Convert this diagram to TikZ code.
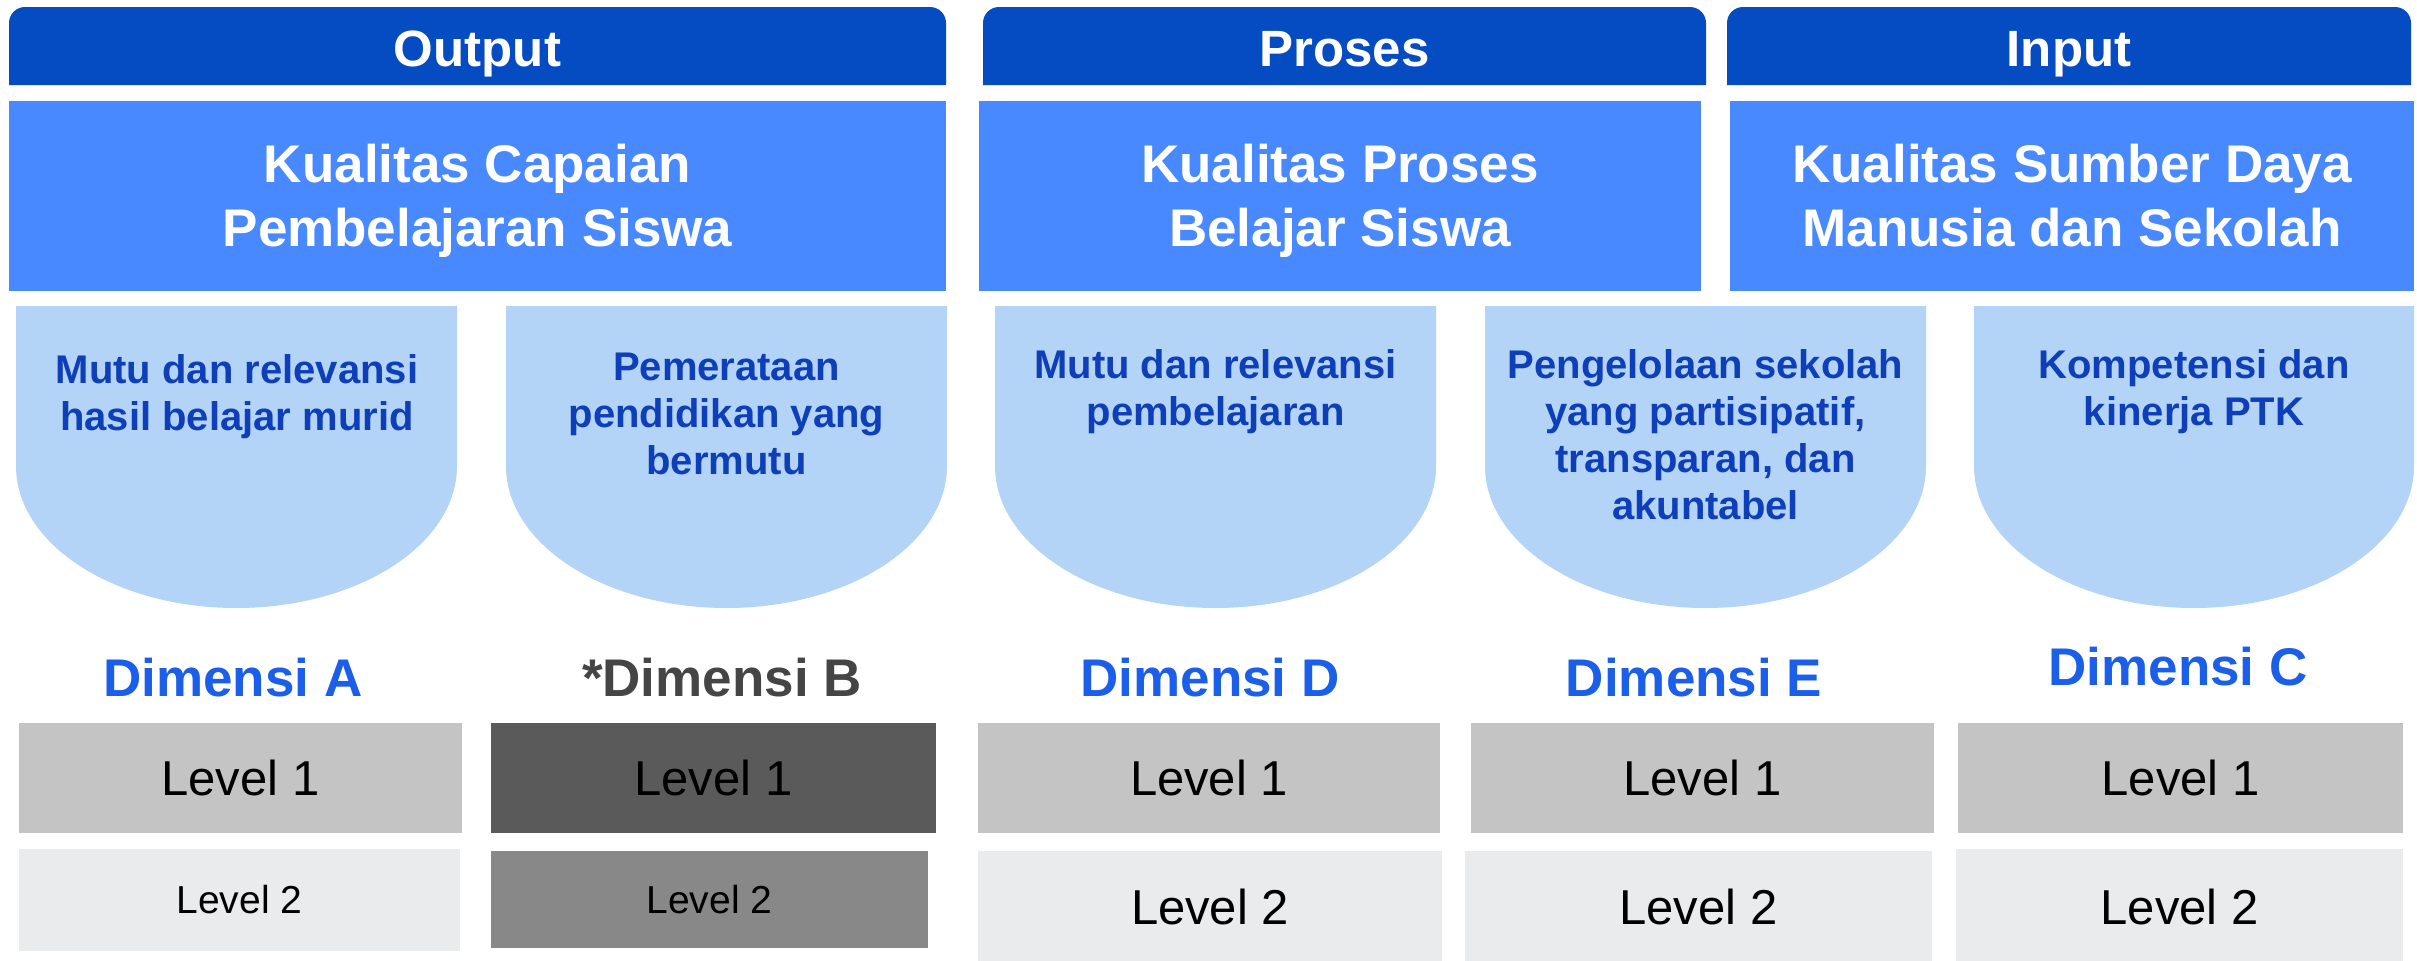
\documentclass[tikz,border=0pt]{standalone}
\usepackage{fontspec}
\setmainfont{Liberation Sans}
\definecolor{hdrblue}{HTML}{054CC2}
\definecolor{mainblue}{HTML}{4889FF}
\definecolor{shieldfill}{HTML}{B3D3F7}
\definecolor{shieldtext}{HTML}{0E3FB8}
\definecolor{dimblue}{HTML}{1A5EEA}
\definecolor{dimgray}{HTML}{454545}
\definecolor{lvlone}{HTML}{C4C4C4}
\definecolor{lvltwo}{HTML}{EAEBED}
\definecolor{blvlone}{HTML}{5A5A5A}
\definecolor{blvltwo}{HTML}{888888}
\tikzset{
  hdrtext/.style={text=white, font=\fontsize{25.5pt}{30pt}\selectfont\bfseries, anchor=base, inner sep=0pt},
  mainbox/.style={fill=mainblue, draw=none, inner sep=0pt, minimum height=95pt},
  maintext/.style={text=white, font=\fontsize{26.5pt}{32pt}\selectfont\bfseries, align=center, anchor=north, inner sep=0pt},
  shieldshape/.style={fill=shieldfill, draw=none},
  shieldlabel/.style={text=shieldtext, font=\fontsize{20pt}{23.5pt}\selectfont\bfseries, align=center, anchor=north, inner sep=0pt},
  dimlabel/.style={text=dimblue, font=\fontsize{26.5pt}{30pt}\selectfont\bfseries, anchor=base, inner sep=0pt},
  lvlbox/.style={draw=none, inner sep=0pt, text=black, font=\fontsize{24.5pt}{28pt}\selectfont},
  lvlsmall/.style={lvlbox, font=\fontsize{19.5pt}{24pt}\selectfont},
}
\begin{document}
\begin{tikzpicture}[x=0.5pt,y=-0.5pt]
\useasboundingbox (0,0) rectangle (2417,960);
\fill[white] (0,0) rectangle (2417,960);

% headers
\fill[hdrblue, rounded corners=8pt] (9,85) -- (9,7) -- (946,7) -- (946,85);
\fill[hdrblue, rounded corners=8pt] (983,85) -- (983,7) -- (1706,7) -- (1706,85);
\fill[hdrblue, rounded corners=8pt] (1727,85) -- (1727,7) -- (2411,7) -- (2411,85);
\node[hdrtext] (hout) at (477.5,66) {Output};
\node[hdrtext] (hpro) at (1344.5,66) {Proses};
\node[hdrtext] (hinp) at (2069,66) {Input};

% main boxes
\node[mainbox, minimum width=468.5pt] (bout) at (477.5,196) {};
\node[mainbox, minimum width=361pt] (bpro) at (1340,196) {};
\node[mainbox, minimum width=342pt] (binp) at (2072,196) {};
\node[maintext] (tout) at (477.5,144) {Kualitas Capaian\\Pembelajaran Siswa};
\node[maintext] (tpro) at (1340,144) {Kualitas Proses\\Belajar Siswa};
\node[maintext] (tinp) at (2072,144) {Kualitas Sumber Daya\\Manusia dan Sekolah};

% shields
\fill[shieldshape] (16,306) -- (16,466) .. controls (16,544.4) and (114.7,608) .. (236.5,608) .. controls (358.3,608) and (457,544.4) .. (457,466) -- (457,306) -- cycle;
\fill[shieldshape] (506,306) -- (506,466) .. controls (506,544.4) and (604.7,608) .. (726.5,608) .. controls (848.3,608) and (947,544.4) .. (947,466) -- (947,306) -- cycle;
\fill[shieldshape] (995,306) -- (995,466) .. controls (995,544.4) and (1093.7,608) .. (1215.5,608) .. controls (1337.3,608) and (1436,544.4) .. (1436,466) -- (1436,306) -- cycle;
\fill[shieldshape] (1485,306) -- (1485,466) .. controls (1485,544.4) and (1583.7,608) .. (1705.5,608) .. controls (1827.3,608) and (1926,544.4) .. (1926,466) -- (1926,306) -- cycle;
\fill[shieldshape] (1974,306) -- (1974,466) .. controls (1974,544.4) and (2072.2,608) .. (2194,608) .. controls (2315.8,608) and (2414,544.4) .. (2414,466) -- (2414,306) -- cycle;

\node[shieldlabel] (sa) at (237,354) {Mutu dan relevansi\\hasil belajar murid};
\node[shieldlabel] (sb) at (726.5,353) {Pemerataan\\pendidikan yang\\bermutu};
\node[shieldlabel] (sd) at (1215.5,349) {Mutu dan relevansi\\pembelajaran};
\node[shieldlabel] (se) at (1705.5,349) {Pengelolaan sekolah\\yang partisipatif,\\transparan, dan\\akuntabel};
\node[shieldlabel] (sc) at (2194,349) {Kompetensi dan\\kinerja PTK};

% dimension labels
\node[dimlabel] (da) at (233,696) {Dimensi A};
\node[dimlabel, text=dimgray] (db) at (722,696) {*Dimensi B};
\node[dimlabel] (dd) at (1210,696) {Dimensi D};
\node[dimlabel] (de) at (1694,696) {Dimensi E};
\node[dimlabel] (dc) at (2178,685) {Dimensi C};

% level 1
\node[lvlbox, fill=lvlone, minimum width=221.5pt, minimum height=55pt] (a1) at (240.5,778) {Level 1};
\node[lvlbox, fill=blvlone, minimum width=222.5pt, minimum height=55pt] (b1) at (713.5,778) {Level 1};
\node[lvlbox, fill=lvlone, minimum width=231pt, minimum height=55pt] (d1) at (1209,778) {Level 1};
\node[lvlbox, fill=lvlone, minimum width=231.5pt, minimum height=55pt] (e1) at (1702.5,778) {Level 1};
\node[lvlbox, fill=lvlone, minimum width=222.5pt, minimum height=55pt] (c1) at (2180.5,778) {Level 1};

% level 2
\node[lvlsmall, fill=lvltwo, minimum width=220.5pt, minimum height=51pt] (a2) at (239.5,900) {Level 2};
\node[lvlsmall, fill=blvltwo, minimum width=218.5pt, minimum height=48.5pt] (b2) at (709.5,899.5) {Level 2};
\node[lvlbox, fill=lvltwo, minimum width=232pt, minimum height=56pt] (d2) at (1210,907) {Level 2};
\node[lvlbox, fill=lvltwo, minimum width=233.5pt, minimum height=56pt] (e2) at (1698.5,907) {Level 2};
\node[lvlbox, fill=lvltwo, minimum width=223.5pt, minimum height=58pt] (c2) at (2179.5,907) {Level 2};
\end{tikzpicture}
\end{document}
